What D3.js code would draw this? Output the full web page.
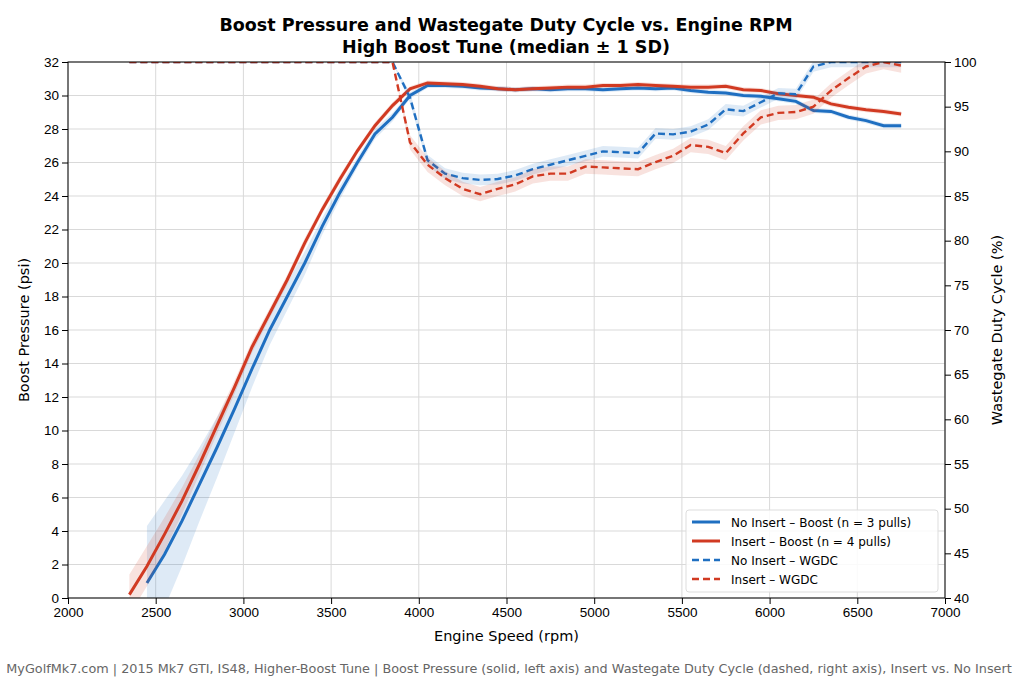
<!DOCTYPE html>
<html><head><meta charset="utf-8">
<script src="https://cdn.jsdelivr.net/npm/d3@7"></script>
<style>body{margin:0;background:#fff;font-family:"DejaVu Sans",sans-serif}</style>
</head><body>
<svg id="chart" width="1024" height="683"></svg>
<script>
// rpm grid (100 rpm steps, from 2350)
const rpm = d3.range(2350, 6751, 100);
const boostNo = [null,0.9,2.6,4.6,6.8,9.0,11.3,13.7,16.0,18.0,20.0,22.2,24.2,26.0,27.7,28.7,30.0,30.6,30.6,30.55,30.45,30.4,30.35,30.4,30.35,30.4,30.4,30.35,30.4,30.45,30.4,30.45,30.3,30.2,30.15,30.0,29.95,29.8,29.65,29.1,29.05,28.7,28.5,28.2,28.2];
const boostNoSd = [null,3.4,3.2,2.7,2.2,1.8,1.4,1.1,0.9,0.8,0.7,0.5,0.4,0.3,0.3,0.25,0.2,0.15,0.15,0.15,0.15,0.15,0.15,0.15,0.15,0.15,0.15,0.15,0.15,0.15,0.15,0.15,0.15,0.15,0.15,0.15,0.15,0.15,0.15,0.15,0.15,0.15,0.15,0.15,0.15];
const boostInSd = [1.2,1.2,1.0,0.8,0.6,0.5,0.4,0.35,0.3,0.3,0.3,0.25,0.25,0.2,0.2,0.2,0.15,0.15,0.15,0.15,0.15,0.15,0.15,0.15,0.15,0.15,0.15,0.15,0.15,0.15,0.15,0.15,0.15,0.15,0.15,0.15,0.15,0.15,0.15,0.15,0.15,0.15,0.15,0.15,0.15];
const boostIn = [0.2,1.9,3.8,5.8,8.0,10.3,12.6,15.0,17.0,19.0,21.2,23.2,25.0,26.7,28.2,29.4,30.4,30.75,30.7,30.65,30.55,30.4,30.35,30.4,30.45,30.5,30.5,30.6,30.6,30.65,30.6,30.55,30.5,30.5,30.55,30.35,30.3,30.1,30.0,29.9,29.5,29.3,29.15,29.05,28.9];
const wgdcNo = [100,100,100,100,100,100,100,100,100,100,100,100,100,100,100,100,96,89,87.5,87,86.8,86.9,87.3,88,88.5,89,89.5,90,89.9,89.8,92,91.9,92.2,93,94.7,94.5,95.5,96.5,96.4,99.5,100,100,100,100,100];
const wgdcNoSd = rpm.map((r, i) => i < 16 ? 0 : 0.6);
const wgdcIn = [100,100,100,100,100,100,100,100,100,100,100,100,100,100,100,100,91,88.5,87,85.8,85.2,85.8,86.3,87.2,87.5,87.5,88.3,88.2,88.1,88,88.8,89.5,90.7,90.5,89.8,92,93.8,94.3,94.4,95,96.8,98.2,99.5,100,99.6];
const wgdcInSd = rpm.map((r, i) => i < 16 ? 0 : 0.8);
const xTicks = d3.range(2000, 7001, 500);
const yLeftTicks = d3.range(0, 33, 2);
const yRightTicks = d3.range(40, 101, 5);

const blue = "#1f6fc1", red = "#d13a22";
const svg = d3.select("#chart");
const m = {l: 68, r: 945, t: 62, b: 598};
const x = d3.scaleLinear().domain([2000, 7000]).range([m.l, m.r]);
const yL = d3.scaleLinear().domain([0, 32]).range([m.b, m.t]);
const yR = d3.scaleLinear().domain([40, 100]).range([m.b, m.t]);

svg.append("defs").append("clipPath").attr("id", "clip")
  .append("rect").attr("x", m.l).attr("y", m.t).attr("width", m.r - m.l).attr("height", m.b - m.t);

// grid
const g = svg.append("g");
g.selectAll(".gx").data(xTicks).join("line").attr("x1", d => x(d)).attr("x2", d => x(d))
  .attr("y1", m.t).attr("y2", m.b).attr("stroke", "#d9d9d9");
g.selectAll(".gy").data(yLeftTicks).join("line").attr("y1", d => yL(d)).attr("y2", d => yL(d))
  .attr("x1", m.l).attr("x2", m.r).attr("stroke", "#d9d9d9");

const plot = svg.append("g").attr("clip-path", "url(#clip)");
function series(vals, sds, y, color, dashed) {
  const data = rpm.map((r, i) => ({r, v: vals[i], s: sds[i]})).filter(d => d.v != null);
  plot.append("path").datum(data).attr("fill", color).attr("opacity", 0.15)
    .attr("d", d3.area().x(d => x(d.r)).y0(d => y(d.v - d.s)).y1(d => y(d.v + d.s)));
  plot.append("path").datum(data).attr("fill", "none").attr("stroke", color)
    .attr("stroke-width", dashed ? 2.4 : 3).attr("stroke-dasharray", dashed ? "7,4" : null)
    .attr("d", d3.line().x(d => x(d.r)).y(d => y(d.v)));
}
series(boostNo, boostNoSd, yL, blue, false);
series(boostIn, boostInSd, yL, red, false);
series(wgdcNo, wgdcNoSd, yR, blue, true);
series(wgdcIn, wgdcInSd, yR, red, true);

// axes
const fs = "13.5px";
const txt = a => a.selectAll("text").attr("font-size", fs).attr("fill", "#000");
svg.append("g").attr("transform", `translate(0,${m.b})`)
  .call(d3.axisBottom(x).tickValues(xTicks).tickFormat(d3.format("d")).tickSizeOuter(0)).call(txt);
svg.append("g").attr("transform", `translate(${m.l},0)`)
  .call(d3.axisLeft(yL).tickValues(yLeftTicks).tickSizeOuter(0)).call(txt);
svg.append("g").attr("transform", `translate(${m.r},0)`)
  .call(d3.axisRight(yR).tickValues(yRightTicks).tickSizeOuter(0)).call(txt);
svg.append("rect").attr("x", m.l).attr("y", m.t).attr("width", m.r - m.l).attr("height", m.b - m.t)
  .attr("fill", "none").attr("stroke", "#000");
svg.selectAll(".domain").remove();

// labels
svg.append("text").attr("x", (m.l + m.r) / 2).attr("y", 641).attr("text-anchor", "middle").attr("font-size", "14.5px").text("Engine Speed (rpm)");
svg.append("text").attr("transform", `translate(29,${(m.t + m.b) / 2}) rotate(-90)`).attr("text-anchor", "middle").attr("font-size", "14.5px").text("Boost Pressure (psi)");
svg.append("text").attr("transform", `translate(1002,${(m.t + m.b) / 2}) rotate(-90)`).attr("text-anchor", "middle").attr("font-size", "14.5px").text("Wastegate Duty Cycle (%)");
svg.append("text").attr("x", 506).attr("y", 31).attr("text-anchor", "middle").attr("font-size", "17.5px").attr("font-weight", "bold").text("Boost Pressure and Wastegate Duty Cycle vs. Engine RPM");
svg.append("text").attr("x", 506).attr("y", 53).attr("text-anchor", "middle").attr("font-size", "17.5px").attr("font-weight", "bold").text("High Boost Tune (median ± 1 SD)");
svg.append("text").attr("x", 509).attr("y", 673).attr("text-anchor", "middle").attr("font-size", "12.8px").attr("fill", "#666")
  .text("MyGolfMk7.com | 2015 Mk7 GTI, IS48, Higher-Boost Tune | Boost Pressure (solid, left axis) and Wastegate Duty Cycle (dashed, right axis), Insert vs. No Insert");

// legend
const legend = [
  {label: "No Insert – Boost (n = 3 pulls)", color: blue, dashed: false},
  {label: "Insert – Boost (n = 4 pulls)", color: red, dashed: false},
  {label: "No Insert – WGDC", color: blue, dashed: true},
  {label: "Insert – WGDC", color: red, dashed: true}
];
const lg = svg.append("g").attr("transform", "translate(686,510)");
lg.append("rect").attr("width", 252).attr("height", 82).attr("rx", 3).attr("fill", "#fff").attr("fill-opacity", 0.85).attr("stroke", "#ddd");
legend.forEach((d, i) => {
  const yy = 12 + i * 19;
  lg.append("line").attr("x1", 6).attr("x2", 34).attr("y1", yy).attr("y2", yy).attr("stroke", d.color)
    .attr("stroke-width", d.dashed ? 2.4 : 3).attr("stroke-dasharray", d.dashed ? "7,4" : null);
  lg.append("text").attr("x", 45).attr("y", yy + 4.5).attr("font-size", "12px").text(d.label);
});
</script>
</body></html>
